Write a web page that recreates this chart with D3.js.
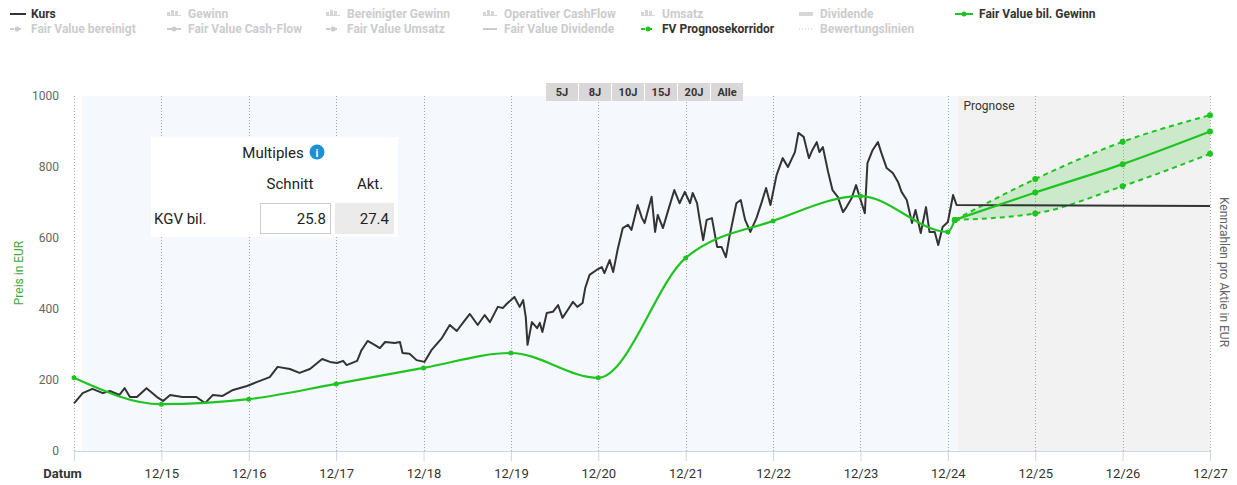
<!DOCTYPE html>
<html lang="de">
<head>
<meta charset="UTF-8">
<title>Kurs und Fair Value</title>
<script src="https://d3js.org/d3.v7.min.js"></script>
<style>
  body { margin: 0; background: #fff; font-family: Roboto, "Noto Sans", sans-serif; }
  svg text { font-family: Roboto, "Noto Sans", sans-serif; }
</style>
</head>
<body>
<svg width="1237" height="485"></svg>
<script>
// ---- data (decimal years, values in EUR) ----
var kursDates = [2014.92,2015.02,2015.13,2015.25,2015.33,2015.44,2015.50,2015.56,2015.64,2015.75,2015.87,2015.94,
  2016.02,2016.16,2016.32,2016.42,2016.51,2016.62,2016.74,2016.90,2017.01,2017.16,2017.25,2017.39,2017.50,2017.62,
  2017.76,2017.85,2017.93,2018.00,2018.04,2018.16,2018.21,2018.28,2018.36,2018.42,2018.48,2018.59,2018.65,2018.68,
  2018.76,2018.84,2018.93,2019.01,2019.13,2019.22,2019.30,2019.37,2019.45,2019.54,2019.62,2019.68,2019.77,2019.83,
  2019.87,2019.96,2020.02,2020.06,2020.09,2020.11,2020.16,2020.22,2020.25,2020.28,2020.33,2020.40,2020.46,2020.51,
  2020.57,2020.63,2020.68,2020.74,2020.77,2020.82,2020.90,2020.96,2020.99,2021.05,2021.09,2021.14,2021.20,2021.26,
  2021.30,2021.37,2021.42,2021.45,2021.53,2021.57,2021.60,2021.66,2021.71,2021.79,2021.85,2021.91,2021.97,2022.00,
  2022.05,2022.08,2022.12,2022.16,2022.22,2022.28,2022.33,2022.38,2022.42,2022.50,2022.55,2022.60,2022.66,2022.73,
  2022.79,2022.84,2022.89,2022.96,2023.03,2023.09,2023.17,2023.21,2023.27,2023.33,2023.37,2023.42,2023.45,2023.49,
  2023.55,2023.60,2023.66,2023.72,2023.76,2023.82,2023.87,2023.91,2023.97,2024.00,2024.06,2024.12,2024.16,2024.22,
  2024.29,2024.35,2024.39,2024.45,2024.51,2024.55,2024.61,2024.67,2024.71,2024.77,2024.81,2024.86,2024.92,2024.98,
  2025.02,2027.92];
var kursValues = [134,163,175,163,169,158,177,152,152,177,152,141,
  158,152,152,135,158,155,172,183,194,208,237,231,220,231,
  259,251,248,254,242,254,284,310,299,290,307,304,307,276,
  274,256,251,284,318,355,338,361,386,355,383,363,406,403,
  414,434,406,425,377,299,363,346,361,335,389,392,411,375,
  397,420,406,417,459,496,510,518,501,538,504,566,628,637,
  623,693,656,642,716,617,665,628,670,735,698,730,698,727,
  698,651,594,651,656,575,575,546,603,698,707,651,617,656,
  701,741,693,777,825,800,842,896,885,825,848,870,842,856,
  786,735,716,673,687,713,749,716,670,811,848,870,839,797,
  783,758,730,707,642,679,614,687,617,617,580,631,645,721,
  693,690];

var fvDates  = [2014.92,2015.92,2016.92,2017.92,2018.92,2019.92,2020.92,2021.92,2022.92,2023.92,2024.92,2025.00];
var fvValues = [206,132,146,189,234,276,206,544,648,718,617,651];

var progDates = [2025.00,2025.92,2026.92,2027.92];
var progMid   = [651,728,808,900];
var progHigh  = [651,766,871,946];
var progLow   = [651,669,746,837];

var tickYears  = [2014.92,2015.92,2016.92,2017.92,2018.92,2019.92,2020.92,2021.92,2022.92,2023.92,2024.92,2025.92,2026.92,2027.92];
var tickLabels = ["Datum","12/15","12/16","12/17","12/18","12/19","12/20","12/21","12/22","12/23","12/24","12/25","12/26","12/27"];
var yTicks = [0,200,400,600,800,1000];

var legendRow1 = ["Kurs","Gewinn","Bereinigter Gewinn","Operativer CashFlow","Umsatz","Dividende","Fair Value bil. Gewinn"];
var legendRow2 = ["Fair Value bereinigt","Fair Value Cash-Flow","Fair Value Umsatz","Fair Value Dividende","FV Prognosekorridor","Bewertungslinien"];
var rangeButtons = ["5J","8J","10J","15J","20J","Alle"];

var multiplesRow = { label: "KGV bil.", schnitt: "25.8", akt: "27.4" };

// ---- setup ----
var svg = d3.select("svg");
var green = "#1fc421";
var plot = { left: 74, right: 1210, top: 96, bottom: 451 };

var x = d3.scaleLinear().domain([2014.92, 2027.92]).range([plot.left, plot.right]);
var y = d3.scaleLinear().domain([0, 1000]).range([plot.bottom, plot.top]);

// backgrounds
var progStart = 2025.03;
svg.append("rect")
  .attr("x", x(2015.01)).attr("y", plot.top)
  .attr("width", x(progStart) - x(2015.01)).attr("height", plot.bottom - plot.top)
  .attr("fill", "#f5f8fd");
svg.append("rect")
  .attr("x", x(progStart)).attr("y", plot.top)
  .attr("width", x(2027.92) - x(progStart)).attr("height", plot.bottom - plot.top)
  .attr("fill", "#f2f2f2");

// vertical dotted grid lines
svg.append("g").selectAll("line")
  .data(tickYears)
  .enter().append("line")
  .attr("x1", d => Math.round(x(d)) + 0.5).attr("x2", d => Math.round(x(d)) + 0.5)
  .attr("y1", plot.top).attr("y2", plot.bottom)
  .attr("stroke", "#a6a6a6").attr("stroke-width", 1)
  .attr("stroke-dasharray", "1,2");

// x axis
var xAxis = d3.axisBottom(x)
  .tickValues(tickYears)
  .tickSize(10)
  .tickFormat((d, i) => tickLabels[i]);
var gx = svg.append("g").attr("transform", "translate(0," + plot.bottom + ")").call(xAxis);
gx.select(".domain").attr("stroke", "#ccd6eb");
gx.selectAll(".tick line").attr("stroke", "#ccd6eb");
gx.selectAll(".tick text").attr("fill", "#333").attr("font-size", 13).attr("dy", "1.05em");
gx.selectAll(".tick text").filter((d, i) => i === 0)
  .attr("font-weight", "bold").attr("dx", "-12");

// y axis labels only
var yAxis = d3.axisLeft(y).tickValues(yTicks).tickSize(0).tickPadding(0).tickFormat(d3.format("d"));
var gy = svg.append("g").attr("transform", "translate(59,0)").call(yAxis);
gy.select(".domain").remove();
gy.selectAll(".tick text").attr("fill", "#666").attr("font-size", 12);

// axis titles
svg.append("text")
  .attr("transform", "translate(23,273) rotate(-90)")
  .attr("text-anchor", "middle").attr("font-size", 12).attr("fill", "#3aa83a")
  .text("Preis in EUR");
svg.append("text")
  .attr("transform", "translate(1220,272) rotate(90)")
  .attr("text-anchor", "middle").attr("font-size", 12).attr("fill", "#666")
  .text("Kennzahlen pro Aktie in EUR");

// prognose label
svg.append("text").attr("x", x(progStart) + 6).attr("y", 110)
  .attr("font-size", 12).attr("fill", "#333").text("Prognose");

// forecast corridor
var area = d3.area()
  .x((d, i) => x(progDates[i]))
  .y0((d, i) => y(progLow[i]))
  .y1((d, i) => y(progHigh[i]))
  .curve(d3.curveMonotoneX);
svg.append("path").datum(progDates).attr("d", area)
  .attr("fill", green).attr("fill-opacity", 0.18);

var lineOf = function(dates) {
  return d3.line().x((d, i) => x(dates[i])).y(d => y(d)).curve(d3.curveMonotoneX);
};

[progHigh, progLow].forEach(function(vals) {
  svg.append("path").datum(vals).attr("d", lineOf(progDates))
    .attr("fill", "none").attr("stroke", green).attr("stroke-width", 2)
    .attr("stroke-dasharray", "5,4");
});

// kurs line
svg.append("path").datum(kursValues)
  .attr("d", d3.line().x((d, i) => x(kursDates[i])).y(d => y(d)))
  .attr("fill", "none").attr("stroke", "#333").attr("stroke-width", 2)
  .attr("stroke-linejoin", "round");

// fair value line
svg.append("path").datum(fvValues).attr("d", lineOf(fvDates))
  .attr("fill", "none").attr("stroke", green).attr("stroke-width", 2.2);
svg.append("path").datum(progMid).attr("d", lineOf(progDates))
  .attr("fill", "none").attr("stroke", green).attr("stroke-width", 2.2);

svg.append("g").selectAll("circle")
  .data(fvValues.slice(0, -1))
  .enter().append("circle")
  .attr("cx", (d, i) => x(fvDates[i])).attr("cy", d => y(d))
  .attr("r", 2.5).attr("fill", green);

[progMid, progHigh, progLow].forEach(function(vals) {
  svg.append("g").selectAll("circle")
    .data(vals)
    .enter().append("circle")
    .attr("cx", (d, i) => x(progDates[i])).attr("cy", d => y(d))
    .attr("r", 3).attr("fill", green);
});

// range buttons
var btn = svg.append("g").selectAll("g")
  .data(rangeButtons)
  .enter().append("g")
  .attr("transform", (d, i) => "translate(" + (546 + i * 33) + ",83)");
btn.append("rect").attr("width", 32).attr("height", 18).attr("fill", "#d9d7d7");
btn.append("text").attr("x", 16).attr("y", 13).attr("text-anchor", "middle")
  .attr("font-size", 11).attr("font-weight", "bold").attr("fill", "#333")
  .text(d => d);

// multiples box
var mb = svg.append("g").attr("transform", "translate(151,137)");
mb.append("rect").attr("width", 247).attr("height", 100).attr("fill", "#fff");
mb.append("text").attr("x", 122).attr("y", 21).attr("text-anchor", "middle")
  .attr("font-size", 15).attr("fill", "#222").text("Multiples");
mb.append("circle").attr("cx", 166).attr("cy", 15).attr("r", 7.5).attr("fill", "#1a90d9");
mb.append("text").attr("x", 166).attr("y", 19.5).attr("text-anchor", "middle")
  .attr("font-size", 11).attr("font-weight", "bold").attr("fill", "#fff").text("i");
mb.append("text").attr("x", 139).attr("y", 52).attr("text-anchor", "middle")
  .attr("font-size", 15).attr("fill", "#222").text("Schnitt");
mb.append("text").attr("x", 219).attr("y", 52).attr("text-anchor", "middle")
  .attr("font-size", 15).attr("fill", "#222").text("Akt.");
mb.append("text").attr("x", 3).attr("y", 87)
  .attr("font-size", 15).attr("fill", "#222").text(multiplesRow.label);
mb.append("rect").attr("x", 109.5).attr("y", 66.5).attr("width", 70).attr("height", 30)
  .attr("fill", "#fff").attr("stroke", "#ccc");
mb.append("text").attr("x", 175).attr("y", 87).attr("text-anchor", "end")
  .attr("font-size", 15).attr("fill", "#222").text(multiplesRow.schnitt);
mb.append("rect").attr("x", 184).attr("y", 66).attr("width", 59).attr("height", 31)
  .attr("fill", "#ebebeb");
mb.append("text").attr("x", 238).attr("y", 87).attr("text-anchor", "end")
  .attr("font-size", 15).attr("fill", "#222").text(multiplesRow.akt);

// legend
var legX = [10, 167, 326, 483, 641, 799, 955];
var active1 = { "Kurs": true, "Fair Value bil. Gewinn": true };
var active2 = { "FV Prognosekorridor": true };

function drawBarIcon(g, cx, cy) {
  g.append("rect").attr("x", cx).attr("y", cy - 2).attr("width", 3).attr("height", 4).attr("fill", "#d6d6d6");
  g.append("rect").attr("x", cx + 4).attr("y", cy - 4).attr("width", 3).attr("height", 6).attr("fill", "#d6d6d6");
  g.append("rect").attr("x", cx + 8).attr("y", cy - 3).attr("width", 3).attr("height", 5).attr("fill", "#d6d6d6");
  g.append("rect").attr("x", cx).attr("y", cy + 1).attr("width", 14).attr("height", 1).attr("fill", "#d6d6d6");
}

var leg = svg.append("g");
legendRow1.forEach(function(name, i) {
  var lx = legX[i], ly = 14;
  var on = !!active1[name];
  if (name === "Kurs") {
    leg.append("line").attr("x1", lx).attr("x2", lx + 16).attr("y1", ly).attr("y2", ly)
      .attr("stroke", "#333").attr("stroke-width", 2);
  } else if (name === "Fair Value bil. Gewinn") {
    leg.append("line").attr("x1", lx).attr("x2", lx + 18).attr("y1", ly).attr("y2", ly)
      .attr("stroke", green).attr("stroke-width", 2);
    leg.append("circle").attr("cx", lx + 9).attr("cy", ly).attr("r", 2.5).attr("fill", green);
  } else if (name === "Dividende") {
    leg.append("rect").attr("x", lx).attr("y", ly - 2).attr("width", 14).attr("height", 4).attr("fill", "#d6d6d6");
  } else {
    drawBarIcon(leg, lx, ly);
  }
  leg.append("text").attr("x", lx + (name === "Fair Value bil. Gewinn" ? 24 : 21))
    .attr("y", ly + 4).attr("font-size", 12).attr("font-weight", "bold")
    .attr("fill", on ? "#333" : "#cccccc").text(name);
});
legendRow2.forEach(function(name, i) {
  var lx = legX[i], ly = 29;
  var on = !!active2[name];
  var col = on ? green : "#cccccc";
  if (name === "Bewertungslinien") {
    leg.append("line").attr("x1", lx).attr("x2", lx + 14).attr("y1", ly).attr("y2", ly)
      .attr("stroke", col).attr("stroke-width", 1).attr("stroke-dasharray", "1,2");
  } else if (name === "Fair Value Dividende") {
    leg.append("line").attr("x1", lx).attr("x2", lx + 14).attr("y1", ly).attr("y2", ly)
      .attr("stroke", col).attr("stroke-width", 2);
  } else {
    var dash = (name === "Fair Value Cash-Flow") ? null : "4,3";
    leg.append("line").attr("x1", lx).attr("x2", lx + 14).attr("y1", ly).attr("y2", ly)
      .attr("stroke", col).attr("stroke-width", 2).attr("stroke-dasharray", dash);
    leg.append("circle").attr("cx", lx + 7).attr("cy", ly).attr("r", 2.5).attr("fill", col);
  }
  leg.append("text").attr("x", lx + 21).attr("y", ly + 4).attr("font-size", 12).attr("font-weight", "bold")
    .attr("fill", on ? "#333" : "#cccccc").text(name);
});
</script>
</body>
</html>
